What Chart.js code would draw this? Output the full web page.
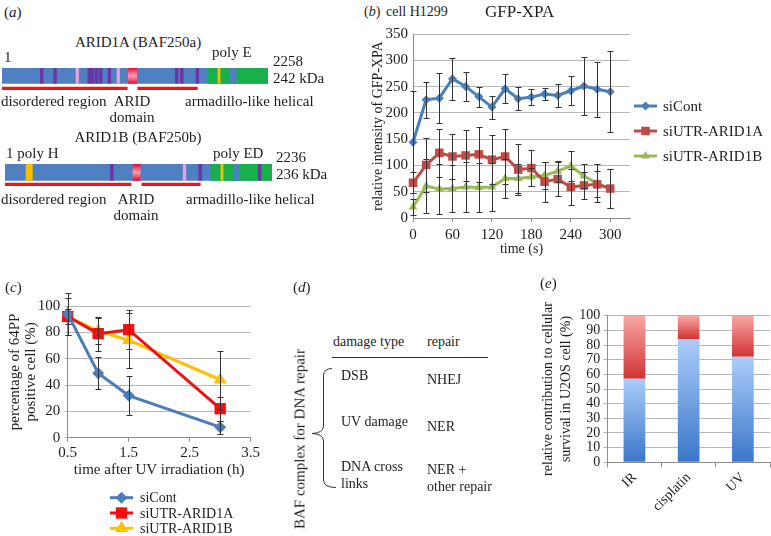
<!DOCTYPE html>
<html>
<head>
<meta charset="utf-8">
<script src="https://cdn.jsdelivr.net/npm/chart.js@4.4.1/dist/chart.umd.min.js"></script>
<style>
  body { margin: 0; background: #fff; }
  #page { position: relative; width: 771px; height: 536px; overflow: hidden; background: #fff;
          font-family: "Liberation Serif", "Times New Roman", serif; color: #1e1e1e; }
  #page canvas { position: absolute; }
  .t { position: absolute; white-space: nowrap; line-height: 1; }
</style>
</head>
<body>
<div id="page">
  <canvas id="protA" width="266" height="32" style="left:2px;top:60px"></canvas>
  <canvas id="protB" width="267" height="32" style="left:5px;top:156px"></canvas>
  <canvas id="chartB" width="401" height="245" style="left:370px;top:20px"></canvas>
  <canvas id="chartC" width="265" height="256" style="left:0px;top:280px"></canvas>
  <canvas id="brace" width="40" height="130" style="left:305px;top:362px"></canvas>
  <canvas id="chartE" width="251" height="256" style="left:520px;top:280px"></canvas>
</div>
<script>
// ---- (a) protein maps, residue positions ----
var arid1aLength = 2258;
var arid1aPurple = [337, 450, 741, 770, 804, 838, 911, 1483, 1526, 1658];
var arid1aPink = [639, 987];
var arid1aArid = [1072, 1144];
var arid1aGreen = [1752, 2258];
var arid1aBlueStripe = [1936, 1987];
var arid1aYellow = [1842];
var arid1aUnder = [[0, 1063], [1152, 1658]];

var arid1bLength = 2236;
var arid1bPurple = [895, 1635, 2132];
var arid1bPink = [1503];
var arid1bArid = [1071, 1132];
var arid1bGreen = [1725, 2236];
var arid1bBlueStripe = [1912, 1956];
var arid1bYellow = [1817];
var arid1bPolyH = [176, 229];
var arid1bUnder = [[0, 1054], [1146, 1635]];

// ---- (b) GFP-XPA recruitment ----
var timeS = [0, 20, 40, 60, 80, 100, 120, 140, 160, 180, 200, 220, 240, 260, 280, 300];
var siContB = [144, 225, 228, 265, 250, 231, 211, 246, 227, 230, 236, 233, 242, 251, 245, 240];
var siContBErr = [97, 34, 47, 40, 27, 19, 22, 28, 22, 15, 12, 22, 28, 56, 52, 77];
var arid1aB = [67, 101, 124, 117, 119, 121, 111, 117, 92, 95, 69, 74, 59, 62, 64, 56];
var arid1aBErr = [20, 52, 46, 43, 48, 52, 46, 52, 48, 34, 38, 33, 34, 25, 25, 37];
var arid1bB = [21, 61, 55, 56, 59, 58, 59, 75, 75, 78, 81, 89, 99, 80, 66, 56];
var arid1bBErr = [15, 52, 47, 44, 48, 46, 45, 37, 27, 18, 26, 20, 29, 22, 36, 37];

// ---- (c) 64PP positive cells ----
var hoursC = [0.5, 1.0, 1.5, 3.0];
var siContC = [94, 49, 32, 8];
var siContCErr = [16, 12, 15, 5];
var arid1aC = [92, 79, 82, 22];
var arid1aCErr = [6, 13, 15, 9];
var arid1bC = [92, 81, 74, 44];
var arid1bCErr = [14, 10, 21, 22];

// ---- (e) survival contribution ----
var treatments = ['IR', 'cisplatin', 'UV'];
var blueShare = [57, 84, 72];
var redShare = [43, 16, 28];

var serif = '"Liberation Serif", "Times New Roman", serif';
var textCol = '#1e1e1e';
var axisGrey = '#8c8c8c';
var gridGrey = '#b8b8b8';
var page = document.getElementById('page');

function txt(s, x, y, size, align, extra) {
    var d = document.createElement('div');
    d.className = 't';
    d.innerHTML = s;
    d.style.left = x + 'px';
    d.style.top = y + 'px';
    d.style.fontSize = size + 'px';
    d.style.transform = align === 'c' ? 'translate(-50%,-50%)' : 'translateY(-50%)';
    if (extra) Object.assign(d.style, extra);
    page.appendChild(d);
}

// marker shapes, same geometry as chart.js point styles
function marker(ctx, style, r, x, y) {
    ctx.beginPath();
    if (style === 'rectRot') {
        ctx.moveTo(x, y - r); ctx.lineTo(x + r, y); ctx.lineTo(x, y + r); ctx.lineTo(x - r, y);
    } else if (style === 'rect') {
        var h = r * Math.SQRT1_2;
        ctx.rect(x - h, y - h, 2 * h, 2 * h);
    } else {
        ctx.moveTo(x, y - r);
        ctx.lineTo(x + r * Math.sin(2 * Math.PI / 3), y + r * 0.5);
        ctx.lineTo(x - r * Math.sin(2 * Math.PI / 3), y + r * 0.5);
    }
    ctx.closePath();
    ctx.fill();
}

var errorBars = {
    id: 'errorBars',
    afterDatasetsDraw: function (chart, args, opts) {
        var ctx = chart.ctx, ys = chart.scales.y;
        ctx.save();
        ctx.strokeStyle = opts.color;
        ctx.lineWidth = 1;
        chart.data.datasets.forEach(function (ds, i) {
            if (!ds.errors) return;
            chart.getDatasetMeta(i).data.forEach(function (pt, j) {
                var v = ds.data[j].y, e = ds.errors[j];
                var x = Math.round(pt.x) + 0.5;
                var top = Math.round(ys.getPixelForValue(v + e)) + 0.5;
                var bot = Math.round(ys.getPixelForValue(v - e)) + 0.5;
                ctx.beginPath();
                ctx.moveTo(x, top); ctx.lineTo(x, bot);
                ctx.moveTo(x - opts.cap, top); ctx.lineTo(x + opts.cap, top);
                ctx.moveTo(x - opts.cap, bot); ctx.lineTo(x + opts.cap, bot);
                ctx.stroke();
            });
        });
        ctx.restore();
    }
};

var sideLegend = {
    id: 'sideLegend',
    afterDraw: function (chart, args, o) {
        var ctx = chart.ctx;
        ctx.save();
        chart.data.datasets.forEach(function (ds, i) {
            var y = o.y + i * o.gap;
            ctx.strokeStyle = ds.borderColor;
            ctx.lineWidth = ds.borderWidth;
            ctx.beginPath(); ctx.moveTo(o.x, y); ctx.lineTo(o.x + o.len, y); ctx.stroke();
            ctx.fillStyle = ds.pointBackgroundColor;
            marker(ctx, ds.pointStyle, ds.pointRadius, o.x + o.len / 2, y);
            ctx.fillStyle = textCol;
            ctx.font = o.size + 'px ' + serif;
            ctx.textBaseline = 'middle';
            ctx.textAlign = 'left';
            ctx.fillText(ds.label, o.textX, y + 1);
        });
        ctx.restore();
    }
};

function pts(xs, ys) {
    return xs.map(function (x, i) { return {x: x, y: ys[i]}; });
}

function lineSet(label, xs, ys, errs, color, style, r) {
    return {
        label: label, data: pts(xs, ys), errors: errs,
        borderColor: color, backgroundColor: color,
        pointBackgroundColor: color, pointBorderColor: color, pointBorderWidth: 0,
        pointStyle: style, pointRadius: r, borderWidth: 3, tension: 0, clip: false
    };
}

// ---------- (a) ----------
function marks(list, half, y) {
    return list.map(function (p) { return {x: [p - half, p + half], y: y}; });
}
function spans(list, y) {
    return list.map(function (s) { return {x: [s[0], s[1]], y: y}; });
}

function proteinChart(id, len, rows) {
    var datasets = rows.map(function (r) {
        return {data: r.data, backgroundColor: r.color, barThickness: r.thick,
                grouped: false, borderWidth: 0};
    });
    return new Chart(document.getElementById(id), {
        type: 'bar',
        data: {datasets: datasets},
        options: {
            indexAxis: 'y', responsive: false, animation: false, devicePixelRatio: 1,
            layout: {padding: 0},
            plugins: {legend: {display: false}, tooltip: {enabled: false}},
            scales: {
                x: {type: 'linear', min: 0, max: len, display: false},
                y: {type: 'linear', min: 0, max: 32, reverse: true, offset: false, display: false}
            }
        }
    });
}

function aridFill(center) {
    return function (c) {
        var area = c.chart.chartArea;
        if (!area) return '#ee2244';
        var g = c.chart.ctx.createLinearGradient(0, area.top, 0, area.bottom);
        g.addColorStop(Math.max(0, (center - 7.5) / 32), '#e8123a');
        g.addColorStop(center / 32, '#ff9fb4');
        g.addColorStop((center + 7.5) / 32, '#e8123a');
        return g;
    };
}

var blueBar = '#4f80c2', purple = '#6a35a8', pink = '#e6a5d6', green = '#18b04a',
    yellow = '#f5c000', underRed = '#e31a1c';

proteinChart('protA', arid1aLength, [
    {data: marks(arid1aYellow, 9, 15.8), color: yellow, thick: 15},
    {data: marks(arid1aPurple, 12, 15.8), color: purple, thick: 15},
    {data: marks(arid1aPink, 11, 15.8), color: pink, thick: 15},
    {data: spans([arid1aArid], 15.8), color: aridFill(15.8), thick: 15},
    {data: spans([arid1aBlueStripe], 15.8), color: blueBar, thick: 15},
    {data: spans([arid1aGreen], 15.8), color: green, thick: 15},
    {data: spans([[0, arid1aLength]], 15.8), color: blueBar, thick: 15},
    {data: spans(arid1aUnder, 28.3), color: underRed, thick: 2.5}
]);

proteinChart('protB', arid1bLength, [
    {data: marks(arid1bYellow, 9, 16.4), color: yellow, thick: 16},
    {data: marks(arid1bPurple, 12, 16.4), color: purple, thick: 16},
    {data: marks(arid1bPink, 11, 16.4), color: pink, thick: 16},
    {data: spans([arid1bPolyH], 16.4), color: yellow, thick: 16},
    {data: spans([arid1bArid], 16.4), color: aridFill(16.4), thick: 16},
    {data: spans([arid1bBlueStripe], 16.4), color: blueBar, thick: 16},
    {data: spans([arid1bGreen], 16.4), color: green, thick: 16},
    {data: spans([[0, arid1bLength]], 16.4), color: blueBar, thick: 16},
    {data: spans(arid1bUnder, 28.3), color: underRed, thick: 2.5}
]);

txt('(<i>a</i>)', 4, 12, 15);
txt('ARID1A (BAF250a)', 138, 42, 15, 'c');
txt('1', 4, 57, 15);
txt('poly E', 212, 52, 15);
txt('2258', 273, 61, 15);
txt('242 kDa', 273, 78, 15);
txt('disordered region', 1, 101, 15);
txt('ARID', 132, 101, 15, 'c');
txt('domain', 132, 117, 15, 'c');
txt('armadillo-like helical', 185, 101, 15);
txt('ARID1B (BAF250b)', 138, 137, 15, 'c');
txt('1 poly H', 6, 153, 15);
txt('poly ED', 213, 153, 15);
txt('2236', 276, 157, 15);
txt('236 kDa', 276, 174, 15);
txt('disordered region', 1, 199, 15);
txt('ARID', 136, 199, 15, 'c');
txt('domain', 136, 215, 15, 'c');
txt('armadillo-like helical', 186, 199, 15);

// ---------- (b) ----------
new Chart(document.getElementById('chartB'), {
    type: 'line',
    data: {
        datasets: [
            lineSet('siCont', timeS, siContB, siContBErr, '#4a7ebb', 'rectRot', 4.5),
            lineSet('siUTR-ARID1A', timeS, arid1aB, arid1aBErr, '#be4b48', 'rect', 6),
            lineSet('siUTR-ARID1B', timeS, arid1bB, arid1bBErr, '#98b954', 'triangle', 5)
        ]
    },
    plugins: [errorBars, sideLegend],
    options: {
        responsive: false, animation: false, devicePixelRatio: 1,
        layout: {padding: {top: 13, right: 141, left: 0, bottom: 0}},
        plugins: {
            legend: {display: false}, tooltip: {enabled: false},
            errorBars: {color: '#333', cap: 3},
            sideLegend: {x: 264, len: 23, y: 86, gap: 25, textX: 293, size: 15}
        },
        scales: {
            x: {
                type: 'linear', min: 0, max: 330,
                afterFit: function (s) { s.height = 47; },
                ticks: {stepSize: 60, includeBounds: false, autoSkip: false, padding: 4, color: textCol, font: {family: serif, size: 15}},
                grid: {drawOnChartArea: false, tickLength: 4, color: axisGrey},
                border: {color: axisGrey},
                title: {display: true, text: 'time (s)', color: textCol, font: {family: serif, size: 14}, padding: {top: 0, bottom: 7}}
            },
            y: {
                min: 0, max: 350,
                afterFit: function (s) { s.width = 43; },
                ticks: {stepSize: 50, autoSkip: false, padding: 5, color: textCol, font: {family: serif, size: 15}},
                grid: {color: gridGrey, drawTicks: false},
                border: {color: axisGrey},
                title: {display: true, text: 'relative intensity of GFP-XPA', color: textCol, font: {family: serif, size: 14}, padding: 0}
            }
        }
    }
});

txt('(<i>b</i>)', 364, 12, 14);
txt('cell H1299', 386, 12, 14);
txt('GFP-XPA', 485, 11, 17);

// ---------- (c) ----------
new Chart(document.getElementById('chartC'), {
    type: 'line',
    data: {
        datasets: [
            lineSet('siCont', hoursC, siContC, siContCErr, '#4a7ebb', 'rectRot', 6),
            lineSet('siUTR-ARID1A', hoursC, arid1aC, arid1aCErr, '#f01010', 'rect', 8),
            lineSet('siUTR-ARID1B', hoursC, arid1bC, arid1bCErr, '#ffc000', 'triangle', 7.5)
        ]
    },
    plugins: [errorBars, sideLegend],
    options: {
        responsive: false, animation: false, devicePixelRatio: 1,
        layout: {padding: {top: 26, right: 14.3, left: 0, bottom: 56}},
        plugins: {
            legend: {display: false}, tooltip: {enabled: false},
            errorBars: {color: '#333', cap: 3},
            sideLegend: {x: 110, len: 23, y: 217.7, gap: 15.3, textX: 140, size: 14}
        },
        scales: {
            x: {
                type: 'linear', min: 0.5, max: 3.5,
                afterFit: function (s) { s.height = 42.3; },
                ticks: {stepSize: 1, includeBounds: false, autoSkip: false, padding: 2, color: textCol, font: {family: serif, size: 15}},
                grid: {drawOnChartArea: false, tickLength: 4, color: axisGrey},
                border: {color: axisGrey},
                title: {display: true, text: 'time after UV irradiation (h)', color: textCol, font: {family: serif, size: 15}, padding: {top: 0, bottom: 1}}
            },
            y: {
                min: 0, max: 100,
                afterFit: function (s) { s.width = 67.7; },
                ticks: {stepSize: 20, autoSkip: false, padding: 4.5, color: textCol, font: {family: serif, size: 15}},
                grid: {color: gridGrey, tickLength: 3},
                border: {color: axisGrey},
                title: {display: true, text: ['percentage of 64PP', 'positive cell (%)'], color: textCol,
                        font: {family: serif, size: 15, lineHeight: 1.1}, padding: {top: 6.75, bottom: 0}}
            }
        }
    }
});

txt('(<i>c</i>)', 5, 287, 15);

// ---------- (d) ----------
txt('(<i>d</i>)', 293, 287, 15);
txt('BAF complex for DNA repair', 300, 439, 15, 'c', {transform: 'translate(-50%,-50%) rotate(-90deg)'});
txt('damage type', 333, 342, 14);
txt('repair', 427, 342, 14);
txt('DSB', 341, 376, 14);
txt('NHEJ', 427, 380, 14);
txt('UV damage', 341, 422, 14);
txt('NER', 427, 427, 14);
txt('DNA cross', 341, 467, 14);
txt('links', 341, 484, 14);
txt('NER +', 427, 470, 14);
txt('other repair', 427, 487, 14);
var rule = document.createElement('div');
rule.style.cssText = 'position:absolute;left:332px;top:357px;width:156px;height:1px;background:#333;';
page.appendChild(rule);

var bctx = document.getElementById('brace').getContext('2d');
bctx.strokeStyle = '#333';
bctx.lineWidth = 1;
bctx.beginPath();
bctx.moveTo(27, 6.5);
bctx.quadraticCurveTo(18.5, 6.5, 18.5, 14);
bctx.lineTo(18.5, 64);
bctx.quadraticCurveTo(18.5, 71, 7, 71.5);
bctx.quadraticCurveTo(18.5, 72, 18.5, 79);
bctx.lineTo(18.5, 118);
bctx.quadraticCurveTo(18.5, 125.5, 31, 125.5);
bctx.stroke();

// ---------- (e) ----------
var redTop = blueShare.map(function (b, i) { return b + redShare[i]; });
var zeros = blueShare.map(function () { return 0; });

function segFill(lo, hi, dark, light) {
    return function (c) {
        var ys = c.chart.scales.y;
        if (!ys || c.dataIndex === undefined) return dark;
        var y0 = ys.getPixelForValue(lo[c.dataIndex]);
        var y1 = ys.getPixelForValue(hi[c.dataIndex]);
        if (!isFinite(y0) || !isFinite(y1) || y0 === y1) return dark;
        var g = c.chart.ctx.createLinearGradient(0, y0, 0, y1);
        g.addColorStop(0, dark);
        g.addColorStop(1, light);
        return g;
    };
}

new Chart(document.getElementById('chartE'), {
    type: 'bar',
    data: {
        labels: treatments,
        datasets: [
            {data: blueShare, backgroundColor: segFill(zeros, blueShare, '#3a76c8', '#abcdfa'),
             barPercentage: 0.4, categoryPercentage: 1, borderWidth: 0},
            {data: redShare, backgroundColor: segFill(blueShare, redTop, '#cf3434', '#f9a6a6'),
             barPercentage: 0.4, categoryPercentage: 1, borderWidth: 0}
        ]
    },
    options: {
        responsive: false, animation: false, devicePixelRatio: 1,
        layout: {padding: {top: 35.7, right: 1, left: 0, bottom: 0}},
        plugins: {legend: {display: false}, tooltip: {enabled: false}},
        scales: {
            x: {
                stacked: true,
                afterFit: function (s) { s.height = 73.7; },
                ticks: {minRotation: 45, maxRotation: 45, autoSkip: false, padding: 2, color: textCol, font: {family: serif, size: 14}},
                grid: {drawOnChartArea: false, tickLength: 5, color: axisGrey},
                border: {color: axisGrey}
            },
            y: {
                stacked: true, min: 0, max: 100,
                afterFit: function (s) { s.width = 87.3; },
                ticks: {stepSize: 10, autoSkip: false, padding: 3, color: textCol, font: {family: serif, size: 14}},
                grid: {color: gridGrey, tickLength: 4},
                border: {color: axisGrey},
                title: {display: true, text: ['relative contribution to cellular', 'survival in U2OS cell (%)'],
                        color: textCol, font: {family: serif, size: 14, lineHeight: 1.2857}, padding: {top: 19, bottom: 0}}
            }
        }
    }
});

txt('(<i>e</i>)', 540, 283, 15);
</script>
</body>
</html>
